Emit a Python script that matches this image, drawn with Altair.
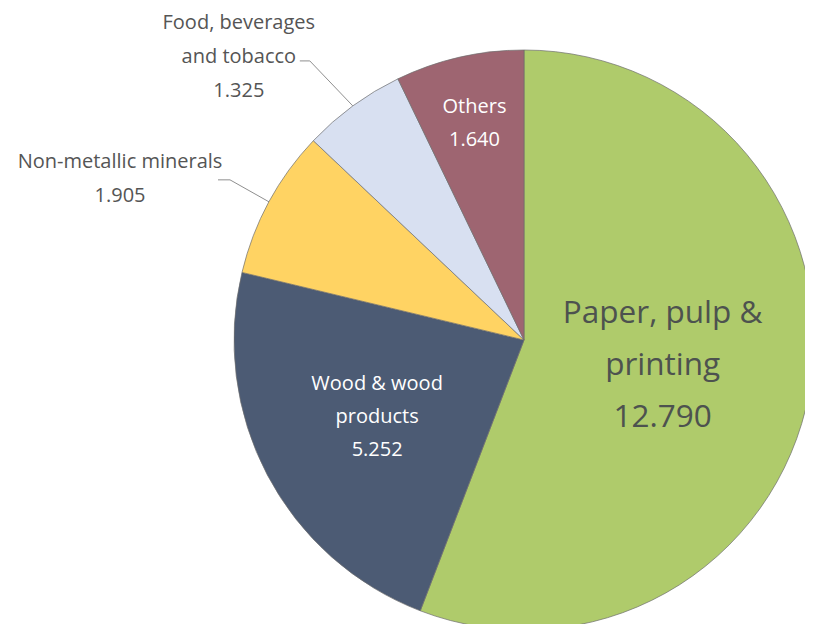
import math
import altair as alt
import pandas as pd

# ---- data ----
categories = ["Paper, pulp & printing", "Wood & wood products", "Non-metallic minerals",
              "Food, beverages and tobacco", "Others"]
values = [12.790, 5.252, 1.905, 1.325, 1.640]
label_texts = ["Paper, pulp &\nprinting", "Wood & wood\nproducts", "Non-metallic minerals",
               "Food, beverages\nand tobacco", "Others"]
colors = ["#AFCB6B", "#4C5B74", "#FFD363", "#D8E0F1", "#9E6571"]

# ---- layout ----
CX, CY, R = 516, 332, 290
FONT = "Open Sans"
inner_r = {0: 141, 1: 166, 4: 222}          # radius of inside labels
outer = {3: ((-43, -45), (-10, 0), (-61, -4)),   # elbow offset, tail, text offset
         2: ((-39, -22), (-12, 0), (-98, -1))}
LH = {"paper": 52, "white": 33, "outer": 34}

total = sum(values)
starts = []
acc = 0.0
for v in values:
    starts.append(acc)
    acc += v
mids = [(s + v / 2) / total * 2 * math.pi for s, v in zip(starts, values)]

pie_df = pd.DataFrame({"cat": categories, "value": values, "idx": list(range(len(values)))})

rows_paper, rows_white, rows_outer, rows_line = [], [], [], []
for i, (cat, v, lt, m) in enumerate(zip(categories, values, label_texts, mids)):
    txt = f"{lt}\n{v:.3f}"
    n = txt.count("\n") + 1
    if i in inner_r:
        r = inner_r[i]
        lh = LH["paper"] if i == 0 else LH["white"]
        row = {"x": CX + r * math.sin(m), "y": CY - r * math.cos(m) - (n - 1) * lh / 2, "t": txt}
        (rows_paper if i == 0 else rows_white).append(row)
    else:
        (edx, edy), (tdx, tdy), (ldx, ldy) = outer[i]
        sx, sy = CX + R * math.sin(m), CY - R * math.cos(m)
        ex, ey = sx + edx, sy + edy
        tx, ty = ex + tdx, ey + tdy
        for k, (px, py) in enumerate([(sx, sy), (ex, ey), (tx, ty)]):
            rows_line.append({"x": px, "y": py, "cat": cat, "k": k})
        rows_outer.append({"x": tx + ldx, "y": ty + ldy - (n - 1) * LH["outer"] / 2, "t": txt})

lines = alt.Chart(pd.DataFrame(rows_line)).mark_line(color="#8F8F8F", strokeWidth=1).encode(
    x=alt.X("x:Q", scale=None, axis=None),
    y=alt.Y("y:Q", scale=None, axis=None),
    detail="cat:N",
    order="k:Q",
)

pie = alt.Chart(pie_df).mark_arc(radius=R, stroke="#6E6E6E", strokeWidth=0.7).encode(
    theta=alt.Theta("value:Q", stack=True),
    order=alt.Order("idx:Q"),
    color=alt.Color("cat:N", scale=alt.Scale(domain=categories, range=colors), legend=None),
    x=alt.value(CX),
    y=alt.value(CY),
)

def text_layer(rows, size, color, lh, weight="normal"):
    return alt.Chart(pd.DataFrame(rows)).mark_text(
        font=FONT, fontSize=size, color=color, lineHeight=lh, lineBreak="\n",
        align="center", baseline="middle", fontWeight=weight,
    ).encode(
        x=alt.X("x:Q", scale=None, axis=None),
        y=alt.Y("y:Q", scale=None, axis=None),
        text="t:N",
    )

chart = alt.layer(
    lines,
    pie,
    text_layer(rows_paper, 31.5, "#4D524F", LH["paper"]),
    text_layer(rows_white, 20, "#FFFFFF", LH["white"], 500),
    text_layer(rows_outer, 20, "#555555", LH["outer"], 500),
).properties(
    width=797, height=616, padding=0,
    autosize=alt.AutoSizeParams(type="none"),
).configure_view(stroke=None)

chart.save("out.html", embed_options={"renderer": "svg", "actions": False})
